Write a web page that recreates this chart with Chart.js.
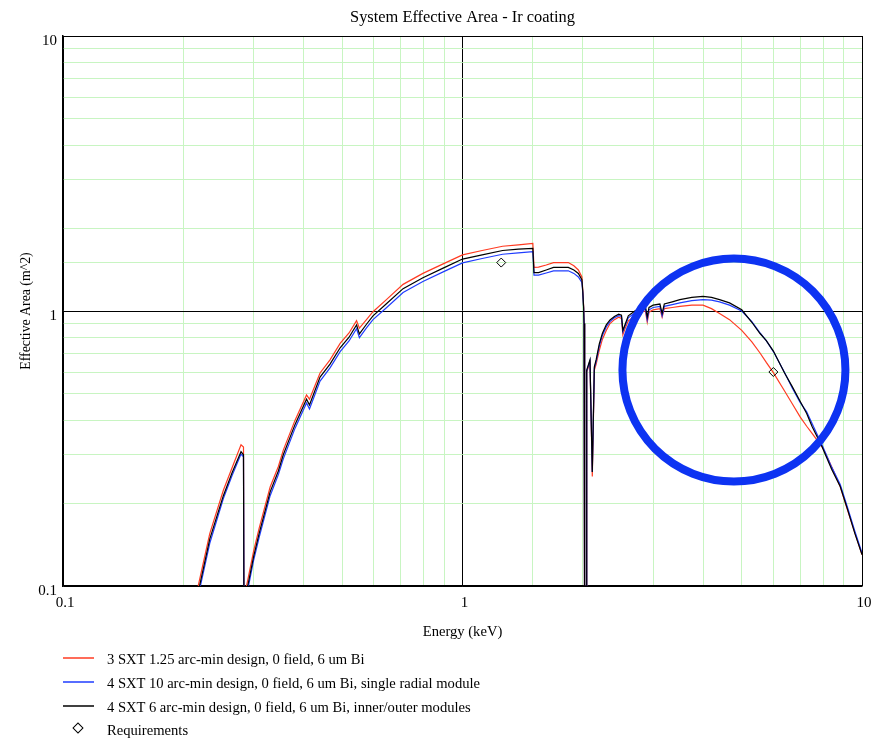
<!DOCTYPE html>
<html>
<head>
<meta charset="utf-8">
<title>System Effective Area - Ir coating</title>
<script src="https://cdn.jsdelivr.net/npm/chart.js@4.4.1/dist/chart.umd.min.js"></script>
<style>
  body { margin: 0; background: #fff; }
  #wrap { position: relative; width: 876px; height: 739px; font-family: "Liberation Serif", "Times New Roman", serif; }
  #legend { position: absolute; left: 63px; top: 648px; font-size: 14.6px; color: #000; }
  .row { position: relative; height: 23.8px; line-height: 23.8px; padding-left: 44px; white-space: nowrap; }
  .swatch { position: absolute; left: 0; top: 9px; width: 31px; height: 2px; opacity: 0.75; }
  .diamond { position: absolute; left: 11px; top: 5px; width: 6px; height: 6px; border: 1.2px solid #000; transform: rotate(45deg); }
</style>
</head>
<body>
<div id="wrap">
  <canvas id="chart" width="876" height="650"></canvas>
  <div id="legend"></div>
</div>
<script>
// energies shared by the three curves (keV)
const energy = [
  0.200, 0.218, 0.233, 0.252, 0.265, 0.279, 0.283, 0.284, 0.288, 0.300,
  0.310, 0.330, 0.346, 0.356, 0.381, 0.407, 0.414, 0.440, 0.466, 0.494,
  0.520, 0.543, 0.552, 0.575, 0.597, 0.645, 0.710, 0.796, 0.900, 1.000,
  1.120, 1.260, 1.380, 1.500, 1.510, 1.550, 1.620, 1.690, 1.780, 1.840,
  1.900, 1.950, 1.990, 2.000, 2.010, 2.015, 2.022, 2.040, 2.046, 2.085,
  2.113, 2.138, 2.160, 2.200, 2.240, 2.290, 2.340, 2.400, 2.460, 2.500,
  2.520, 2.550, 2.600, 2.700, 2.800, 2.870, 2.900, 2.930, 3.000, 3.120,
  3.160, 3.200, 3.350, 3.500, 3.750, 4.000, 4.200, 4.400, 4.660, 5.000,
  5.300, 5.550, 5.760, 6.000, 6.400, 6.690, 7.000, 7.270, 7.500, 7.950,
  8.100, 8.400, 8.820, 9.200, 9.600, 10.000
];

// 3 SXT 1.25 arc-min (red)
const sxt125 = [
  0.060, 0.100, 0.155, 0.223, 0.269, 0.326, 0.320, 0.050, 0.100, 0.134,
  0.163, 0.229, 0.272, 0.312, 0.401, 0.495, 0.478, 0.595, 0.664, 0.762,
  0.832, 0.922, 0.866, 0.930, 0.994, 1.100, 1.250, 1.370, 1.490, 1.600,
  1.660, 1.720, 1.740, 1.760, 1.440, 1.445, 1.470, 1.500, 1.500, 1.500,
  1.460, 1.410, 1.330, 1.190, 1.040, 0.900, 0.050, 0.050, 0.600, 0.650,
  0.250, 0.610, 0.640, 0.720, 0.790, 0.850, 0.900, 0.930, 0.950, 0.940,
  0.820, 0.860, 0.920, 0.960, 0.990, 1.000, 0.910, 0.990, 1.010, 1.020,
  0.950, 1.020, 1.030, 1.040, 1.050, 1.050, 1.020, 0.980, 0.930, 0.850,
  0.772, 0.705, 0.650, 0.597, 0.512, 0.460, 0.412, 0.381, 0.359, 0.320,
  0.304, 0.271, 0.230, 0.189, 0.156, 0.130
];

// 4 SXT 10 arc-min (blue)
const sxt10 = [
  0.050, 0.092, 0.143, 0.208, 0.252, 0.302, 0.295, 0.050, 0.092, 0.124,
  0.151, 0.213, 0.254, 0.290, 0.375, 0.463, 0.440, 0.556, 0.621, 0.712,
  0.778, 0.862, 0.800, 0.868, 0.930, 1.028, 1.168, 1.281, 1.393, 1.496,
  1.552, 1.608, 1.627, 1.645, 1.350, 1.350, 1.375, 1.400, 1.400, 1.400,
  1.370, 1.330, 1.270, 1.170, 1.020, 0.900, 0.050, 0.050, 0.605, 0.660,
  0.260, 0.620, 0.655, 0.745, 0.815, 0.875, 0.915, 0.945, 0.962, 0.955,
  0.840, 0.880, 0.945, 0.985, 1.010, 1.020, 0.930, 1.010, 1.030, 1.040,
  0.960, 1.040, 1.055, 1.070, 1.090, 1.100, 1.095, 1.080, 1.050, 1.000,
  0.915, 0.835, 0.780, 0.712, 0.598, 0.525, 0.465, 0.430, 0.390, 0.325,
  0.305, 0.270, 0.234, 0.193, 0.158, 0.132
];

// 4 SXT 6 arc-min (black)
const sxt6 = [
  0.050, 0.095, 0.148, 0.213, 0.258, 0.308, 0.300, 0.050, 0.095, 0.128,
  0.156, 0.220, 0.262, 0.300, 0.387, 0.478, 0.455, 0.575, 0.641, 0.735,
  0.803, 0.890, 0.825, 0.895, 0.960, 1.062, 1.206, 1.322, 1.438, 1.545,
  1.600, 1.660, 1.680, 1.690, 1.380, 1.380, 1.410, 1.440, 1.440, 1.440,
  1.410, 1.370, 1.300, 1.180, 1.030, 0.900, 0.050, 0.050, 0.610, 0.664,
  0.260, 0.627, 0.664, 0.760, 0.830, 0.890, 0.928, 0.955, 0.973, 0.965,
  0.850, 0.890, 0.960, 1.000, 1.030, 1.040, 0.950, 1.030, 1.050, 1.060,
  0.980, 1.060, 1.080, 1.100, 1.120, 1.130, 1.120, 1.100, 1.070, 1.010,
  0.910, 0.830, 0.780, 0.715, 0.595, 0.531, 0.470, 0.424, 0.380, 0.320,
  0.300, 0.265, 0.230, 0.190, 0.155, 0.130
];

// requirement points
const reqEnergy = [1.25, 6.0];
const reqArea = [1.50, 0.60];

// only decades get a label
const tickLabels = [0.1, 1, 10];

const chartTitle = "System Effective Area - Ir coating";
const seriesNames = [
  "3 SXT 1.25 arc-min design,  0 field, 6 um Bi",
  "4 SXT 10 arc-min design, 0 field, 6 um Bi, single radial module",
  "4 SXT 6 arc-min design, 0 field, 6 um Bi, inner/outer modules",
  "Requirements"
];
const seriesColors = ["#ff3b22", "#1f3cff", "#000000"];

const toPoints = (xs, ys) => xs.map((x, i) => ({ x: x, y: ys[i] }));

const isDecade = v => Math.abs(Math.log10(v) - Math.round(Math.log10(v))) < 1e-6;
const serif = "'Liberation Serif', 'Times New Roman', serif";

function lineSet(label, values, color, order) {
  return {
    label: label,
    data: toPoints(energy, values),
    borderColor: color,
    backgroundColor: color,
    borderWidth: 1.2,
    pointRadius: 0,
    tension: 0,
    order: order
  };
}

// title centred over the plot area + blue highlight ring
const extrasPlugin = {
  id: "extras",
  afterDatasetsDraw(chart) {
    const { ctx, scales, chartArea } = chart;
    const cx = scales.x.getPixelForValue(4.78);
    const cy = scales.y.getPixelForValue(0.61);
    ctx.save();
    ctx.beginPath();
    ctx.arc(cx, cy, 111.5, 0, Math.PI * 2);
    ctx.lineWidth = 8;
    ctx.strokeStyle = "#0d33f2";
    ctx.stroke();

    ctx.fillStyle = "#000";
    ctx.font = "16.4px " + serif;
    ctx.textAlign = "center";
    ctx.textBaseline = "middle";
    ctx.fillText(chartTitle, (chartArea.left + chartArea.right) / 2, 18);
    ctx.restore();
  }
};

const gridColor = ctx => (ctx.tick && isDecade(ctx.tick.value) ? "#000000" : "#c8f5c2");

// x labels get their gap from lineHeight so the right padding stays small
const logAxis = (titleText, isX) => ({
  type: "logarithmic",
  min: 0.1,
  max: 10,
  grid: { color: gridColor, lineWidth: 1, drawTicks: false },
  border: { color: "#000", width: 1.5 },
  ticks: {
    autoSkip: false,
    maxRotation: 0,
    color: "#000",
    font: { family: serif, size: 15, lineHeight: isX ? 2.3 : 1.2 },
    padding: isX ? 0 : 6,
    labelOffset: isX ? 2 : 5,
    callback: v => (tickLabels.some(t => Math.abs(t - v) < 1e-9) ? String(v) : "")
  },
  title: {
    display: true,
    text: titleText,
    color: "#000",
    font: { family: serif, size: isX ? 14.6 : 13.8 },
    padding: isX ? { top: 0, bottom: 9 } : { top: 18, bottom: 0 }
  },
  afterFit: scale => {
    if (isX) scale.height = 64;
    else scale.width = 63;
  }
});

const chart = new Chart(document.getElementById("chart"), {
  type: "line",
  data: {
    datasets: [
      lineSet(seriesNames[0], sxt125, seriesColors[0], 3),
      lineSet(seriesNames[1], sxt10, seriesColors[1], 2),
      lineSet(seriesNames[2], sxt6, seriesColors[2], 1),
      {
        label: seriesNames[3],
        data: toPoints(reqEnergy, reqArea),
        showLine: false,
        pointStyle: "rectRot",
        pointRadius: 4.5,
        pointBorderWidth: 1,
        pointBorderColor: "#000",
        pointBackgroundColor: "rgba(0,0,0,0)",
        order: 0
      }
    ]
  },
  options: {
    responsive: false,
    animation: false,
    layout: { padding: { left: 0, right: 14, top: 36, bottom: 0 } },
    plugins: {
      legend: { display: false },
      tooltip: { enabled: false },
      title: { display: false }
    },
    scales: {
      x: logAxis("Energy (keV)", true),
      y: logAxis("Effective Area (m^2)", false)
    }
  },
  plugins: [extrasPlugin]
});

// legend below the chart, one row per series
const legend = document.getElementById("legend");
legend.innerHTML = seriesNames.map((name, i) => {
  const mark = i < 3
    ? `<span class="swatch" style="background:${seriesColors[i]}"></span>`
    : `<span class="diamond"></span>`;
  return `<div class="row">${mark}${name}</div>`;
}).join("");
</script>
</body>
</html>
